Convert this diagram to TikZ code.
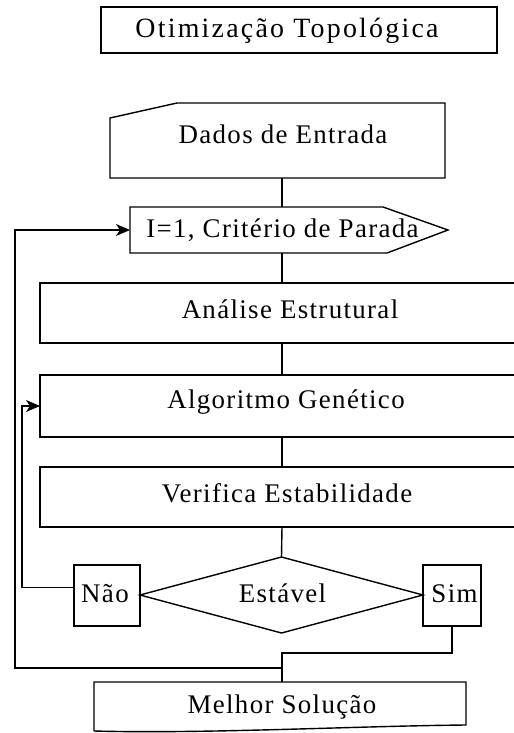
\documentclass[tikz,border=0pt]{standalone}
\usepackage{fontspec}
\setmainfont{Liberation Serif}[LetterSpace=5]
\usetikzlibrary{shapes.geometric,arrows.meta,calc}
\begin{document}
\begin{tikzpicture}[x=1bp,y=-1bp, line width=1.4bp, line join=miter,
  frame/.style={draw, rectangle, inner sep=0pt, outer sep=0pt},
  ghost/.style={rectangle, inner sep=0pt, outer sep=0pt},
  lbl/.style={anchor=base, inner sep=0pt, outer sep=0pt, font=\fontsize{27}{30}\selectfont},
  arr/.style={-{Stealth[length=14bp,width=12bp,inset=4bp]}}]
\useasboundingbox (0,0) rectangle (514,733);
\clip (0,0) rectangle (514,733);
\fill[white] (0,0) rectangle (514,733);
\coordinate (eixo) at (282,0);

% title
\node[frame, minimum width=396bp, minimum height=46bp] (titulo) at (299,30) {};
\node[lbl, font=\fontsize{28}{30}\selectfont\addfontfeature{LetterSpace=8}] (ttitulo) at (287,38) {Otimização Topológica};

% Dados de Entrada (manual input)
\node[ghost, minimum width=335bp, minimum height=75bp] (dados) at (277.5,140.5) {};
\draw (dados.south west) -- ($(dados.north west)+(0,15)$) -- ($(dados.north west)+(67,0)$)
  -- (dados.north east) -- (dados.south east) -- cycle;
\node[lbl] (tdados) at (283,144) {Dados de Entrada};

% Criterio (pointed box)
\node[ghost, minimum width=318bp, minimum height=46bp] (crit) at (289,230) {};
\draw (crit.south west) -- (crit.north west) -- ($(crit.north east)+(-65,0)$)
  -- (crit.east) -- ($(crit.south east)+(-61,0)$) -- cycle;
\node[lbl] (tcrit) at (282.5,237) {I=1, Critério de Parada};

% process boxes
\node[frame, minimum width=500bp, minimum height=60bp] (anal) at (290,313) {};
\node[lbl] (tanal) at (290,318) {Análise Estrutural};
\node[frame, minimum width=500bp, minimum height=62bp] (alg) at (290,406) {};
\node[lbl] (talg) at (286,408) {Algoritmo Genético};
\node[frame, minimum width=500bp, minimum height=60bp] (verif) at (290,497) {};
\node[lbl] (tverif) at (287,502) {Verifica Estabilidade};

% decision
\node[draw, diamond, minimum width=283bp, minimum height=76bp, inner sep=0pt, outer sep=0pt] (estavel) at (281.5,595) {};
\node[lbl] (testavel) at (282.5,602) {Estável};
\node[frame, minimum width=66bp, minimum height=61bp] (nao) at (107,595.5) {};
\node[lbl] (tnao) at (105,602) {Não};
\node[frame, minimum width=58bp, minimum height=61bp] (sim) at (452,595.5) {};
\node[lbl] (tsim) at (454.5,602) {Sim};

% Melhor Solucao (document)
\node[ghost, minimum width=372bp, minimum height=49bp] (melhor) at (280,706.5) {};
\draw (melhor.south west) -- (melhor.north west) -- (melhor.north east)
  -- ($(melhor.north east)+(0,43)$)
  .. controls ($(melhor.north east)+(-110,44)$) and ($(melhor.south west)+(110,3)$) .. (melhor.south west);
\node[lbl] (tmelhor) at (282,713) {Melhor Solução};

% connectors
\draw (dados.south -| eixo) -- (crit.north -| eixo);
\draw (crit.south -| eixo) -- (anal.north -| eixo);
\draw (anal.south -| eixo) -- (alg.north -| eixo);
\draw (alg.south -| eixo) -- (verif.north -| eixo);
\draw (verif.south -| eixo) -- (estavel.north);
\draw[arr] ($(nao.west)+(0,-8)$) -| ($(alg.west)+(-18,0)$) -- (alg.west);
\draw (sim.south) -- ++(0,27) -| (melhor.north -| eixo);
\coordinate (juncao) at ($(melhor.north -| eixo)+(0,-14)$);
\draw[arr] (juncao) -| ($(crit.west)+(-115,0)$) -- (crit.west);
\end{tikzpicture}
\end{document}
